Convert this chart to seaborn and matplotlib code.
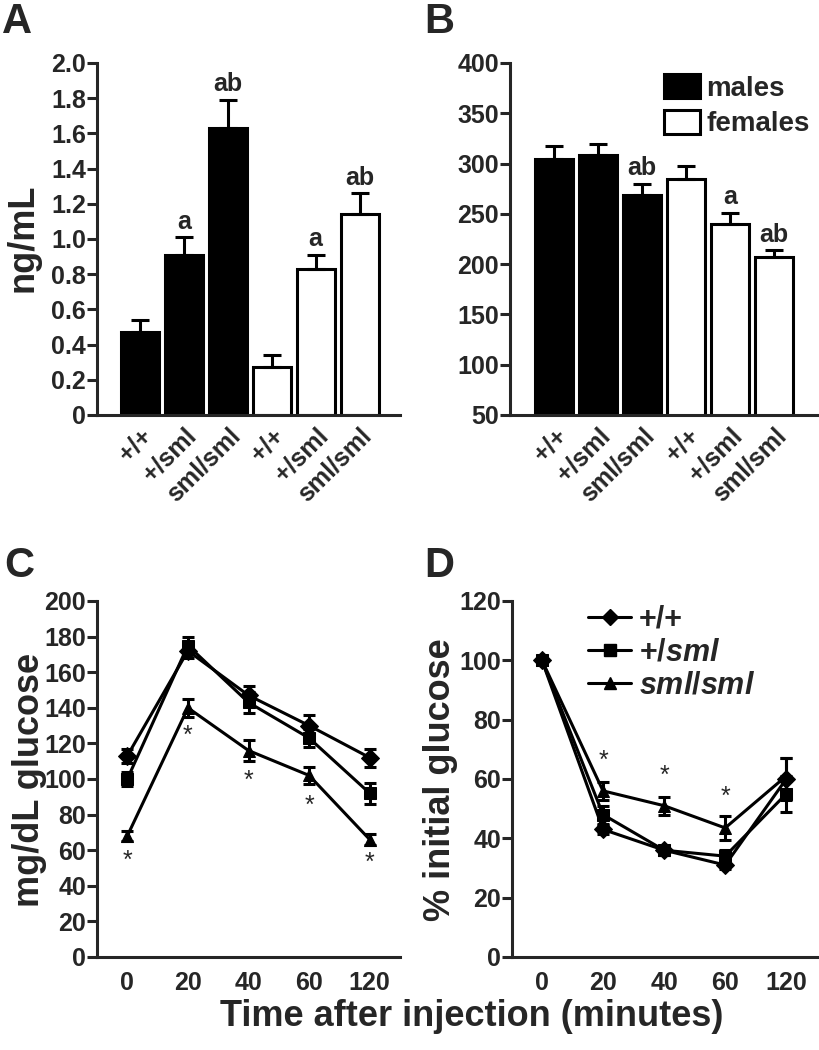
import numpy as np
import pandas as pd
import matplotlib
matplotlib.use("Agg")
import matplotlib.pyplot as plt
import seaborn as sns
from matplotlib.patches import Patch
from matplotlib.lines import Line2D

# ---- data ----
genos = ["+/+", "+/sml", "sml/sml"]
sexes = ["males", "females"]

# panel A (ng/mL)
a_male = [0.47, 0.91, 1.63]
a_male_err = [0.07, 0.10, 0.16]
a_female = [0.27, 0.83, 1.14]
a_female_err = [0.07, 0.08, 0.12]
a_letters = ["", "a", "ab", "", "a", "ab"]

# panel B
b_male = [305, 309, 269]
b_male_err = [12, 10, 11]
b_female = [285, 240, 207]
b_female_err = [13, 11, 7]
b_letters = ["", "", "ab", "", "a", "ab"]

# panels C and D
times = ["0", "20", "40", "60", "120"]
c_wt = [113, 172, 147, 130, 112]
c_wt_err = [4, 4, 5, 6, 5]
c_het = [100, 175, 143, 123, 92]
c_het_err = [4, 5, 6, 5, 6]
c_hom = [68, 140, 116, 102, 66]
c_hom_err = [3, 5, 6, 5, 3]
c_star = [54, 124, 99, 85, 53]

d_wt = [100, 43, 36, 31, 60]
d_wt_err = [1, 1.5, 1.5, 1.5, 7]
d_het = [100, 48, 36, 34, 55]
d_het_err = [1, 3, 1.5, 2, 6]
d_hom = [100, 56, 51, 43.5, 61]
d_hom_err = [1, 3, 3, 4, 6]
d_star_pos = [1, 2, 3]
d_star = [66, 61, 54]

sns.set_style("ticks")
plt.rcParams["font.family"] = ["Liberation Sans", "DejaVu Sans"]
plt.rcParams["font.weight"] = "bold"
plt.rcParams["mathtext.fontset"] = "custom"
plt.rcParams["mathtext.it"] = "Liberation Sans:bold:italic"
plt.rcParams["mathtext.rm"] = "Liberation Sans:bold"
plt.rcParams["mathtext.bf"] = "Liberation Sans:bold"

W, H = 819, 1050
fig = plt.figure(figsize=(W / 100, H / 100), dpi=100)


def px_axes(l, t, r, b):
    return fig.add_axes([l / W, 1 - b / H, (r - l) / W, (b - t) / H])


LW = 2.2
TICK_FS = 18


def style_axes(ax):
    for s in ["top", "right"]:
        ax.spines[s].set_visible(False)
    for s in ["left", "bottom"]:
        ax.spines[s].set_linewidth(LW)
    ax.tick_params(axis="y", direction="out", length=7, width=LW, labelsize=TICK_FS, pad=1)
    ax.tick_params(axis="x", length=0, labelsize=TICK_FS)
    for lab in ax.get_yticklabels() + ax.get_xticklabels():
        lab.set_fontweight("bold")
    ax.set_xlabel("")
    ax.set_ylabel("")


def bar_panel(ax, male, male_err, female, female_err, letters, ylim, yticks, fmt, legend):
    keys = ["m" + g for g in genos] + ["f" + g for g in genos]
    df = pd.DataFrame({
        "group": keys,
        "sex": ["males"] * 3 + ["females"] * 3,
        "value": male + female,
    })
    sns.barplot(data=df, x="group", y="value", hue="sex", order=keys,
                palette={"males": "black", "females": "white"},
                edgecolor="black", linewidth=LW, width=0.865, dodge=False,
                errorbar=None, legend=False, ax=ax)
    vals = male + female
    errs = male_err + female_err
    ax.errorbar(range(6), vals, yerr=[np.zeros(6), errs], fmt="none", ecolor="black",
                elinewidth=LW, capsize=6.5, capthick=LW, zorder=1)
    span = ylim[1] - ylim[0]
    for i, (v, e, t) in enumerate(zip(vals, errs, letters)):
        if t:
            ax.text(i, v + e + span * 0.01, t, ha="center", va="bottom",
                    fontsize=18, fontweight="bold")
    ax.set_ylim(*ylim)
    ax.set_yticks(yticks)
    ax.set_yticklabels([fmt(v) for v in yticks])
    ax.set_xticks(range(6))
    ax.set_xticklabels(genos + genos, rotation=45, ha="right", rotation_mode="anchor",
                       fontweight="bold", fontsize=TICK_FS)
    style_axes(ax)
    ax.tick_params(axis="x", pad=6)
    if legend:
        handles = [Patch(facecolor="black", edgecolor="black", linewidth=LW),
                   Patch(facecolor="white", edgecolor="black", linewidth=LW)]
        ax.legend(handles, sexes, loc="upper right", frameon=False,
                  handlelength=1.3, handleheight=0.95, handletextpad=0.25,
                  labelspacing=0.3, borderaxespad=0, bbox_to_anchor=(1.01, 1.0),
                  prop={"weight": "bold", "size": 20})


def line_panel(ax, series, errs, ylim, yticks):
    rows = []
    for g, ys in zip(genos, series):
        for i, y in enumerate(ys):
            rows.append({"pos": i, "value": y, "genotype": g})
    df = pd.DataFrame(rows)
    marks = {"+/+": "D", "+/sml": "s", "sml/sml": "^"}
    sns.lineplot(data=df, x="pos", y="value", style="genotype", style_order=genos,
                 markers=marks, dashes=False, color="black", linewidth=LW,
                 markersize=9, markeredgecolor="black", legend=False, ax=ax)
    for ys, es in zip(series, errs):
        ax.errorbar(range(5), ys, yerr=es, fmt="none", ecolor="black",
                    elinewidth=LW, capsize=4, capthick=LW)
    ax.set_ylim(*ylim)
    ax.set_yticks(yticks)
    ax.set_xlim(-0.5, 4.5)
    ax.set_xticks(range(5))
    ax.set_xticklabels(times, fontweight="bold", fontsize=TICK_FS)
    style_axes(ax)
    ax.tick_params(axis="x", pad=10)


# A
axA = px_axes(97, 63, 400, 415)
bar_panel(axA, a_male, a_male_err, a_female, a_female_err, a_letters,
          (0, 2.0), np.arange(0, 2.01, 0.2),
          lambda v: "0" if v == 0 else f"{v:.1f}", legend=False)
axA.set_xlim(-0.98, 5.92)

# B
axB = px_axes(510, 63, 818, 415)
bar_panel(axB, b_male, b_male_err, b_female, b_female_err, b_letters,
          (50, 400), np.arange(50, 401, 50), lambda v: f"{int(v)}", legend=True)
axB.set_xlim(-1.01, 6.0)

# C
axC = px_axes(97, 601, 400, 957)
line_panel(axC, [c_wt, c_het, c_hom], [c_wt_err, c_het_err, c_hom_err],
           (0, 200), np.arange(0, 201, 20))
for i, y in enumerate(c_star):
    axC.text(i, y, "*", ha="center", va="center", fontsize=18, fontweight="normal")

# D
axD = px_axes(512, 601, 818, 957)
line_panel(axD, [d_wt, d_het, d_hom], [d_wt_err, d_het_err, d_hom_err],
           (0, 120), np.arange(0, 121, 20))
axD.set_xlim(-0.49, 4.52)
for i, y in zip(d_star_pos, d_star):
    axD.text(i, y, "*", ha="center", va="center", fontsize=18, fontweight="normal")
leg_handles = [Line2D([], [], color="black", lw=LW, marker=m, markersize=8)
               for m in ["D", "s", "^"]]
axD.legend(leg_handles, ["+/+", "+/$\\mathit{sml}$", "$\\mathit{sml/sml}$"],
           loc="upper left", bbox_to_anchor=(0.21, 1.025), frameon=False,
           handlelength=1.4, handletextpad=0.25, labelspacing=0.1, borderaxespad=0,
           prop={"weight": "bold", "size": 22})

# axis labels
fig.text(23 / W, 1 - 238 / H, "ng/mL", rotation=90, ha="center", va="center",
         fontsize=26, fontweight="bold")
fig.text(30 / W, 1 - 780 / H, "mg/dL glucose", rotation=90, ha="center", va="center",
         fontsize=26, fontweight="bold")
fig.text(440 / W, 1 - 780 / H, "% initial glucose", rotation=90, ha="center", va="center",
         fontsize=26, fontweight="bold")
fig.text(472 / W, 1 - 1017 / H, "Time after injection (minutes)", ha="center", va="center",
         fontsize=26, fontweight="bold")

# panel letters
for lab, x, y in [("A", 2, 22), ("B", 424, 22), ("C", 4, 566), ("D", 424, 566)]:
    fig.text(x / W, 1 - y / H, lab, ha="left", va="center", fontsize=30, fontweight="bold")

fig.savefig("out.png", dpi=100)
